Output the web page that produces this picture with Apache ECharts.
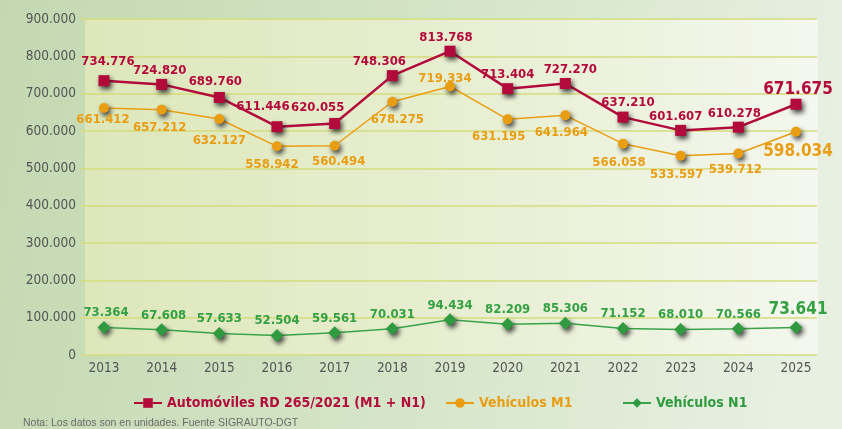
<!DOCTYPE html>
<html>
<head>
<meta charset="utf-8">
<script src="https://cdn.jsdelivr.net/npm/echarts@6/dist/echarts.min.js"></script>
<style>
  html, body { margin: 0; padding: 0; }
  #chart { width: 842px; height: 429px; }
</style>
</head>
<body>
<div id="chart"></div>
<script>
// Matriculaciones anuales 2013–2025 (unidades)
const years = [2013, 2014, 2015, 2016, 2017, 2018, 2019, 2020, 2021, 2022, 2023, 2024, 2025];
const automoviles = [734776, 724820, 689760, 611446, 620055, 748306, 813768, 713404, 727270, 637210, 601607, 610278, 671675];
const vehiculosM1 = [661412, 657212, 632127, 558942, 560494, 678275, 719334, 631195, 641964, 566058, 533597, 539712, 598034];
const vehiculosN1 = [73364, 67608, 57633, 52504, 59561, 70031, 94434, 82209, 85306, 71152, 68010, 70566, 73641];

const FONT = '"DejaVu Sans Condensed", "Liberation Sans Narrow", sans-serif';
const RED = '#b30a3c';
const ORANGE = '#e99d12';
const GREEN = '#2f9a40';
const NAME_A = 'Automóviles RD 265/2021 (M1 + N1)';
const NAME_M1 = 'Vehículos M1';
const NAME_N1 = 'Vehículos N1';

function fmt(v) {
  return String(Math.round(v)).replace(/\B(?=(\d{3})+(?!\d))/g, '.');
}

const lastIdx = years.length - 1;
const shadow = { shadowColor: 'rgba(30,30,30,0.85)', shadowBlur: 5, shadowOffsetX: 2, shadowOffsetY: 3 };

// Point list with value labels; the latest year gets a larger label.
function labelled(vals, color, basePos, dist, nudges) {
  return vals.map((v, i) => {
    const n = (nudges && nudges[i]) || {};
    const big = i === lastIdx;
    return {
      value: [years[i], v],
      label: {
        show: true,
        position: n.position || basePos,
        distance: n.distance != null ? n.distance : dist,
        offset: n.offset || [0, 0],
        color: color,
        fontFamily: FONT,
        fontWeight: 'bold',
        fontSize: big ? 17 : 13,
        formatter: () => fmt(v)
      }
    };
  });
}

function legendAt(left, name, color) {
  return {
    left: left,
    top: 396,
    padding: 0,
    itemWidth: 28,
    itemHeight: 12,
    textStyle: { fontFamily: FONT, fontWeight: 'bold', fontSize: 14, color: color },
    data: [name]
  };
}

const chart = echarts.init(document.getElementById('chart'));

const option = {
  animation: false,
  backgroundColor: {
    type: 'linear', x: 0, y: 0, x2: 1, y2: 0.4,
    colorStops: [
      { offset: 0, color: '#c3d8b1' },
      { offset: 0.5, color: '#d4e4c6' },
      { offset: 1, color: '#e8f0e2' }
    ]
  },
  grid: { left: 80, right: 25, top: 19, bottom: 74 },
  graphic: [
    {
      type: 'rect',
      z: -10,
      shape: { x: 85, y: 19, width: 733, height: 336 },
      style: {
        fill: {
          type: 'linear', x: 0, y: 0, x2: 1, y2: 0,
          colorStops: [
            { offset: 0, color: '#dde7ba' },
            { offset: 0.6, color: '#eaf0d6' },
            { offset: 1, color: '#f4f7ee' }
          ]
        }
      }
    },
    {
      type: 'text',
      left: 23,
      top: 418,
      style: {
        text: 'Nota: Los datos son en unidades. Fuente SIGRAUTO-DGT',
        fill: '#6a6a6a',
        font: '10.5px "Liberation Sans", Arial, sans-serif'
      }
    }
  ],
  legend: [
    legendAt(133, NAME_A, RED),
    legendAt(445, NAME_M1, ORANGE),
    legendAt(622, NAME_N1, GREEN)
  ],
  xAxis: {
    type: 'value',
    min: 2012.584,
    max: 2025.364,
    axisLine: { show: false },
    axisTick: { show: false },
    splitLine: { show: false },
    axisLabel: {
      customValues: years,
      color: '#555',
      fontFamily: FONT,
      fontSize: 13.5,
      margin: 6,
      formatter: v => String(v)
    }
  },
  yAxis: {
    type: 'value',
    min: 0,
    max: 900000,
    interval: 100000,
    axisLine: { show: false },
    axisTick: { show: false },
    splitLine: { lineStyle: { color: '#d5dd7c', width: 1.5 } },
    axisLabel: {
      color: '#555',
      fontFamily: FONT,
      fontSize: 13.5,
      margin: 4,
      formatter: v => (v === 0 ? '0' : fmt(v))
    }
  },
  series: [
    {
      name: NAME_A,
      type: 'line',
      z: 4,
      symbol: 'rect',
      symbolSize: 11,
      color: RED,
      lineStyle: { color: RED, width: 2.5 },
      itemStyle: Object.assign({ color: RED }, shadow),
      data: labelled(automoviles, RED, 'top', 2, {
        0: { offset: [4, -5] }, 1: { offset: [-2, 0] }, 2: { offset: [-4, -2] },
        3: { offset: [-14, -6] }, 4: { offset: [-17, -2] }, 5: { offset: [-13, 0] },
        6: { offset: [-4, 0] }, 7: { offset: [0, 0] }, 8: { offset: [5, 0] },
        9: { offset: [5, 0] }, 10: { offset: [-5, 0] }, 11: { offset: [-4, 0] },
        12: { distance: 1, offset: [2, 0] }
      })
    },
    {
      name: NAME_M1,
      type: 'line',
      z: 3,
      symbol: 'circle',
      symbolSize: 10,
      color: ORANGE,
      lineStyle: { color: ORANGE, width: 1.5 },
      itemStyle: Object.assign({ color: ORANGE }, shadow),
      data: labelled(vehiculosM1, ORANGE, 'bottom', 6, {
        0: { offset: [-1, -6] }, 1: { offset: [-2, 0] }, 2: { offset: [0, 4] },
        3: { offset: [-5, 1] }, 4: { offset: [4, -2] }, 5: { offset: [5, 0] },
        6: { position: 'top', distance: -3.5, offset: [-5, 0] },
        7: { offset: [-9, 0] }, 8: { offset: [-4, 0] }, 9: { offset: [-4, 1] },
        10: { offset: [-4, 1] }, 11: { offset: [-3, -1] },
        12: { distance: 6, offset: [2, 0] }
      })
    },
    {
      name: NAME_N1,
      type: 'line',
      z: 3,
      symbol: 'diamond',
      symbolSize: 13,
      color: GREEN,
      lineStyle: { color: '#3aa34a', width: 1.5 },
      itemStyle: Object.assign({ color: GREEN }, shadow),
      data: labelled(vehiculosN1, '#33a043', 'top', 1.5, {
        0: { offset: [2, 0] }, 1: { offset: [2, 0] },
        12: { distance: 2.5, offset: [2, 0] }
      })
    }
  ]
};

chart.setOption(option);
</script>
</body>
</html>
